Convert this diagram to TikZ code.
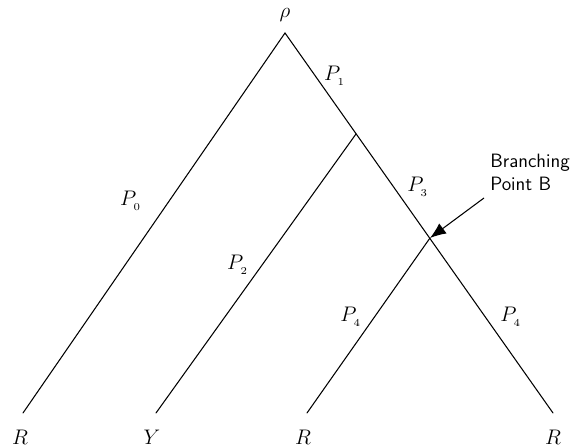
\documentclass[tikz,border=0pt]{standalone}
\usepackage{amsmath,amssymb}
\usepackage{tikz}
\usetikzlibrary{arrows.meta,positioning,calc}
\tikzset{
  branch/.style = {semithick, line cap=round},
  leaf/.style   = {inner sep=1pt, font=\large},
  plabel/.style = {inner sep=1pt, font=\large},
  sig/.style    = {-{Latex[length=3.2mm,width=2.5mm]}, semithick},
}
\newcommand{\pth}[1]{$P_{_{#1}}$}
\begin{document}
\begin{tikzpicture}[x=0.02cm,y=-0.02cm]
\useasboundingbox (0,0) rectangle (582,448);
% tree vertices
\coordinate (root) at (285,33);
\coordinate (n1) at (356,134);
\coordinate (B) at (430,238);
\coordinate (e0) at (23,413);
\coordinate (e1) at (156,413);
\coordinate (e2) at (307,413);
\coordinate (e3) at (553,413);
\draw[branch] (e0) -- (root) -- (e3);
\draw[branch] (n1) -- (e1);
\draw[branch] (B) -- (e2);
% names at the top and at the leaves
\node[leaf] (rho) at (285,15) {$\rho$};
\node[leaf] (l0) at (20,437) {$R$};
\node[leaf] (l1) at (152,437) {$Y$};
\node[leaf] (l2) at (303,437) {$R$};
\node[leaf] (l3) at (553,437) {$R$};
% path labels
\node[plabel] (p0) at (131,201) {\pth{0}};
\node[plabel] (p1) at (335,76) {\pth{1}};
\node[plabel] (p2) at (238,265) {\pth{2}};
\node[plabel] (p3) at (418,187) {\pth{3}};
\node[plabel] (p4a) at (351,317) {\pth{4}};
\node[plabel] (p4b) at (511,317) {\pth{4}};
% annotation pointing at the branching point
\node[font=\fontsize{11}{13}\selectfont\sffamily,align=left,inner sep=1pt] (brp) at (530,172)
  {Branching\\ Point B};
\coordinate (tail) at (484,198);
\draw[sig] (tail) -- (B);
\end{tikzpicture}
\end{document}
